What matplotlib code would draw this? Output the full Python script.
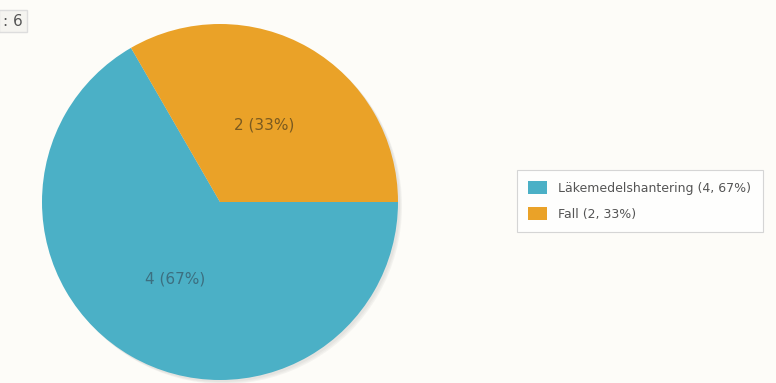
import matplotlib
matplotlib.use("Agg")
import matplotlib.pyplot as plt

categories = ["Läkemedelshantering", "Fall"]
values = [4, 2]
colors = ["#4bb0c6", "#eaa228"]
total_label = ": 6"

total = sum(values)
bg = "#fdfcf8"

fig = plt.figure(figsize=(7.76, 3.83), dpi=100, facecolor=bg)
ax = fig.add_axes([0, 0, 1, 1])
ax.set_aspect("equal")

cx, cy, r = 220, 181, 178

# soft shadow
for i, a in enumerate([0.06, 0.06, 0.07]):
    ax.pie(values, startangle=120, radius=r,
           center=(cx + 2 + i, cy - 2 - i), colors=["#777777"] * 2,
           wedgeprops=dict(alpha=a, linewidth=0), frame=True)

wedges, texts, autotexts = ax.pie(
    values, startangle=120, radius=r, center=(cx, cy),
    colors=colors, wedgeprops=dict(linewidth=0), frame=True,
    autopct=lambda p: "%d (%d%%)" % (round(p * total / 100), round(p)),
    pctdistance=0.5, textprops=dict(fontsize=11))
autotexts[0].set_color("#3c6f80")
autotexts[1].set_color("#7a5a20")

ax.set_xlim(0, 776)
ax.set_ylim(0, 383)
ax.axis("off")

fig.text(3, 383 - 21, total_label, transform=None, fontsize=11, color="#555555",
         va="center", ha="left",
         bbox=dict(boxstyle="square,pad=0.25", fc="#f5f4f0", ec="#dddddd"))

labels = ["%s (%d, %d%%)" % (c, v, round(v * 100 / total)) for c, v in zip(categories, values)]
leg = ax.legend(wedges, labels, loc="center left",
                bbox_to_anchor=(517 / 776, (383 - 201) / 383),
                bbox_transform=fig.transFigure, frameon=True, fancybox=False,
                borderaxespad=0, edgecolor="#cccccc", facecolor="#ffffff",
                fontsize=9, handlelength=1.5, handleheight=1.2,
                labelspacing=1.0, borderpad=0.9, handletextpad=0.9)
leg.get_frame().set_linewidth(0.8)
for t in leg.get_texts():
    t.set_color("#555555")

fig.savefig("out.png", dpi=100, facecolor=bg)
